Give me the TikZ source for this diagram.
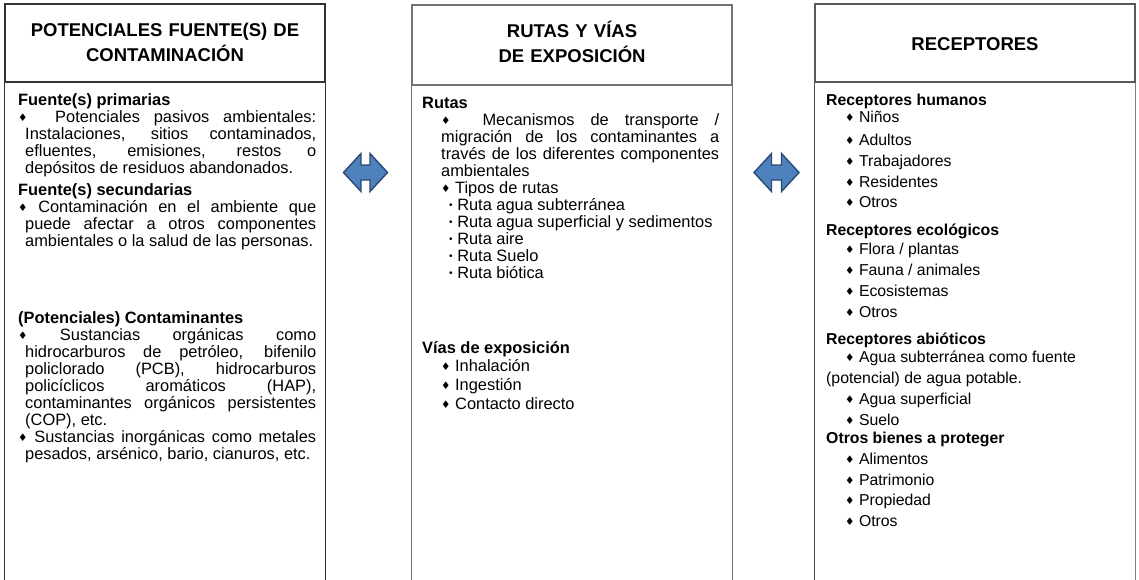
\documentclass[tikz,border=0pt]{standalone}
\usepackage{fontspec}
\setmainfont{Liberation Sans}
\newfontfamily\symf{DejaVu Sans}
\tolerance=10000
\hbadness=10000
\hfuzz=5pt
\newcommand\mydia{\raisebox{0.3pt}{\symf\fontsize{10.5}{10.5}\selectfont ♦}}
\newcommand\mybul{\raisebox{1.2pt}{\fontsize{10}{10}\selectfont •}}
\newcommand\hangpar[1]{{\leftskip=7pt\noindent\hspace*{-7pt}#1\par}}
\definecolor{arrfill}{HTML}{4F81BD}
\definecolor{arrline}{HTML}{2B4A73}
\tikzset{
  hdrbox/.style={draw=#1, line width=1.1pt, inner sep=0pt, minimum width=320pt, minimum height=78pt},
  side/.style={draw=#1, line width=1.1pt},
  title/.style={text width=320pt, align=center, inner sep=0pt, anchor=base,
     font=\fontsize{18.5}{25}\selectfont\bfseries},
  body/.style={text width=#1, inner sep=0pt, anchor=base west, align=justify,
     font=\fontsize{16.4}{17}\selectfont},
  ln/.style={inner sep=0pt, anchor=base west, font=\fontsize{16.4}{17}\selectfont},
  hd/.style={inner sep=0pt, anchor=base west, font=\fontsize{16.4}{17}\selectfont\bfseries},
  rln/.style={inner sep=0pt, anchor=base west, font=\fontsize{15.8}{17}\selectfont},
  rhd/.style={inner sep=0pt, anchor=base west, font=\fontsize{15.8}{17}\selectfont\bfseries},
  dblarrow/.style={fill=arrfill, draw=arrline, line width=1.4pt, line join=miter},
}
\begin{document}
\begin{tikzpicture}[x=1pt,y=-1pt]
\useasboundingbox (0,0) rectangle (1139,579);
% ---------- boxes
\node[hdrbox=black!80] (hL) at (165,43) {};
\node[hdrbox=black!55, minimum height=80pt] (hM) at (572,45) {};
\node[hdrbox=black!65] (hR) at (975,43) {};
\coordinate (bot) at (0,585);
\draw[side=black!80] (hL.south west) -- (hL.south west |- bot);
\draw[side=black!80] (hL.south east) -- (hL.south east |- bot);
\draw[side=black!55] (hM.south west) -- (hM.south west |- bot);
\draw[side=black!55] (hM.south east) -- (hM.south east |- bot);
\draw[side=black!70] (hR.south west) -- (hR.south west |- bot);
\draw[side=black!50] (hR.south east) -- (hR.south east |- bot);
% ---------- titles
\node[title] (tL) at (165,36) {POTENCIALES FUENTE(S) DE\\CONTAMINACIÓN};
\node[title] (tM) at (572,37) {RUTAS Y VÍAS\\DE EXPOSICIÓN};
\node[title] (tR) at (975,50) {RECEPTORES};
% ---------- arrows
\begin{scope}[shift={(365.5,172.5)}]
\draw[dblarrow] (-22,0) -- (-4.5,-19) -- (-4.5,-7.5) -- (4.5,-7.5) -- (4.5,-19) -- (22,0)
  -- (4.5,19) -- (4.5,7.5) -- (-4.5,7.5) -- (-4.5,19) -- cycle;
\end{scope}
\begin{scope}[shift={(776.5,172.5)}]
\draw[dblarrow] (-22.5,0) -- (-5,-19) -- (-5,-7.5) -- (5,-7.5) -- (5,-19) -- (22.5,0)
  -- (5,19) -- (5,7.5) -- (-5,7.5) -- (-5,19) -- cycle;
\end{scope}
% ---------- left column
\node[body=298pt] (bL1) at (18,105) {\textbf{Fuente(s) primarias}\par
\hangpar{\mydia\ \ Potenciales pasivos ambientales:\linebreak Instalaciones, sitios contaminados,\linebreak efluentes, emisiones, restos o\linebreak depósitos de residuos abandonados.}};
\node[body=298pt] (bL2) at (18,195) {\textbf{Fuente(s) secundarias}\par
\hangpar{\mydia\ Contaminación en el ambiente que\linebreak puede afectar a otros componentes\linebreak ambientales o la salud de las personas.}};
\node[body=298pt] (bL3) at (18,323) {\textbf{(Potenciales) Contaminantes}\par
\hangpar{\mydia\ Sustancias orgánicas como\linebreak hidrocarburos de petróleo, bifenilo\linebreak policlorado (PCB), hidrocarburos\linebreak policíclicos aromáticos (HAP),\linebreak contaminantes orgánicos persistentes\linebreak (COP), etc.}};
\node[ln] (bL4) at (18,442) {\makebox[298pt][s]{\mydia\ Sustancias inorgánicas como metales}};
\node[ln] (bL5) at (25,459) {pesados, arsénico, bario, cianuros, etc.};
% ---------- middle column
\node[hd] (mH1) at (422,108) {Rutas};
\node[body=278pt] (mB1) at (441,125) {\mydia\ \ Mecanismos de transporte /\linebreak migración de los contaminantes a\linebreak través de los diferentes componentes\linebreak ambientales\par
\mydia\ Tipos de rutas\par
\hspace*{8pt}\mybul\ Ruta agua subterránea\par
\hspace*{8pt}\mybul\ Ruta agua superficial y sedimentos\par
\hspace*{8pt}\mybul\ Ruta aire\par
\hspace*{8pt}\mybul\ Ruta Suelo\par
\hspace*{8pt}\mybul\ Ruta biótica\par};
\node[hd] (mH2) at (422,353) {Vías de exposición};
\node[ln] (mI1) at (441,371) {\mydia\ Inhalación};
\node[ln] (mI2) at (441,390) {\mydia\ Ingestión};
\node[ln] (mI3) at (441,409) {\mydia\ Contacto directo};
% ---------- right column
\node[rhd] (rH1) at (826,105) {Receptores humanos};
\node[rln] (r1) at (845,122) {\mydia\ Niños};
\node[rln] (r2) at (845,145) {\mydia\ Adultos};
\node[rln] (r3) at (845,166) {\mydia\ Trabajadores};
\node[rln] (r4) at (845,187) {\mydia\ Residentes};
\node[rln] (r5) at (845,207) {\mydia\ Otros};
\node[rhd] (rH2) at (826,235) {Receptores ecológicos};
\node[rln] (r6) at (845,254) {\mydia\ Flora / plantas};
\node[rln] (r7) at (845,275) {\mydia\ Fauna / animales};
\node[rln] (r8) at (845,296) {\mydia\ Ecosistemas};
\node[rln] (r9) at (845,317) {\mydia\ Otros};
\node[rhd] (rH3) at (826,344) {Receptores abióticos};
\node[rln] (r10) at (845,362) {\mydia\ Agua subterránea como fuente};
\node[rln] (r11) at (826,383) {(potencial) de agua potable.};
\node[rln] (r12) at (845,404) {\mydia\ Agua superficial};
\node[rln] (r13) at (845,425) {\mydia\ Suelo};
\node[rhd] (rH4) at (826,443) {Otros bienes a proteger};
\node[rln] (r14) at (845,464) {\mydia\ Alimentos};
\node[rln] (r15) at (845,485) {\mydia\ Patrimonio};
\node[rln] (r16) at (845,505) {\mydia\ Propiedad};
\node[rln] (r17) at (845,526) {\mydia\ Otros};
\end{tikzpicture}
\end{document}
